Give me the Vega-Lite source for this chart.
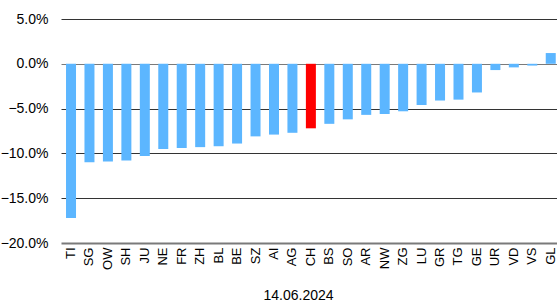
{
  "$schema": "https://vega.github.io/schema/vega-lite/v6.json",
  "width": 496,
  "height": 224,
  "autosize": {"type": "none"},
  "padding": {"left": 61, "top": 19, "right": 0, "bottom": 59},
  "background": "white",
  "config": {"view": {"stroke": null}, "font": "Liberation Sans"},
  "data": {
    "values": [
      {"canton": "TI", "value": -0.172},
      {"canton": "SG", "value": -0.110},
      {"canton": "OW", "value": -0.109},
      {"canton": "SH", "value": -0.108},
      {"canton": "JU", "value": -0.103},
      {"canton": "NE", "value": -0.095},
      {"canton": "FR", "value": -0.094},
      {"canton": "ZH", "value": -0.093},
      {"canton": "BL", "value": -0.092},
      {"canton": "BE", "value": -0.089},
      {"canton": "SZ", "value": -0.081},
      {"canton": "AI", "value": -0.079},
      {"canton": "AG", "value": -0.077},
      {"canton": "CH", "value": -0.072},
      {"canton": "BS", "value": -0.067},
      {"canton": "SO", "value": -0.062},
      {"canton": "AR", "value": -0.057},
      {"canton": "NW", "value": -0.056},
      {"canton": "ZG", "value": -0.053},
      {"canton": "LU", "value": -0.046},
      {"canton": "GR", "value": -0.041},
      {"canton": "TG", "value": -0.040},
      {"canton": "GE", "value": -0.032},
      {"canton": "UR", "value": -0.007},
      {"canton": "VD", "value": -0.004},
      {"canton": "VS", "value": -0.002},
      {"canton": "GL", "value": 0.012}
    ]
  },
  "mark": {"type": "bar"},
  "encoding": {
    "x": {
      "field": "canton",
      "type": "nominal",
      "sort": null,
      "scale": {"paddingInner": 0.458, "paddingOuter": 0.17, "align": 0.8},
      "axis": {
        "labelAngle": -90,
        "labelAlign": "right",
        "labelBaseline": "middle",
        "labelFontSize": 13,
        "labelColor": "#000",
        "labelPadding": 4,
        "ticks": false,
        "domain": false,
        "title": "14.06.2024",
        "titleFontSize": 14,
        "titleFontWeight": "normal",
        "titleColor": "#000",
        "titleX": 237,
        "titleY": 56,
        "titleAlign": "center",
        "titleBaseline": "alphabetic"
      }
    },
    "y": {
      "field": "value",
      "type": "quantitative",
      "scale": {"domain": [-0.2, 0.05], "nice": false, "zero": false},
      "axis": {
        "values": [-0.2, -0.15, -0.1, -0.05, 0, 0.05],
        "format": ".1%",
        "labelFontSize": 14,
        "labelColor": "#000",
        "labelPadding": 13,
        "ticks": false,
        "domain": false,
        "title": null,
        "grid": true,
        "gridColor": {"condition": {"test": "datum.value === 0 || datum.value === -0.2", "value": "#7a7a7a"}, "value": "#333333"},
        "gridWidth": {"condition": {"test": "datum.value === -0.2", "value": 2}, "value": 1},
        "gridOpacity": 1
      }
    },
    "color": {
      "condition": {"test": "datum.canton === 'CH'", "value": "#ff0000"},
      "value": "#5cb6ff"
    }
  }
}
